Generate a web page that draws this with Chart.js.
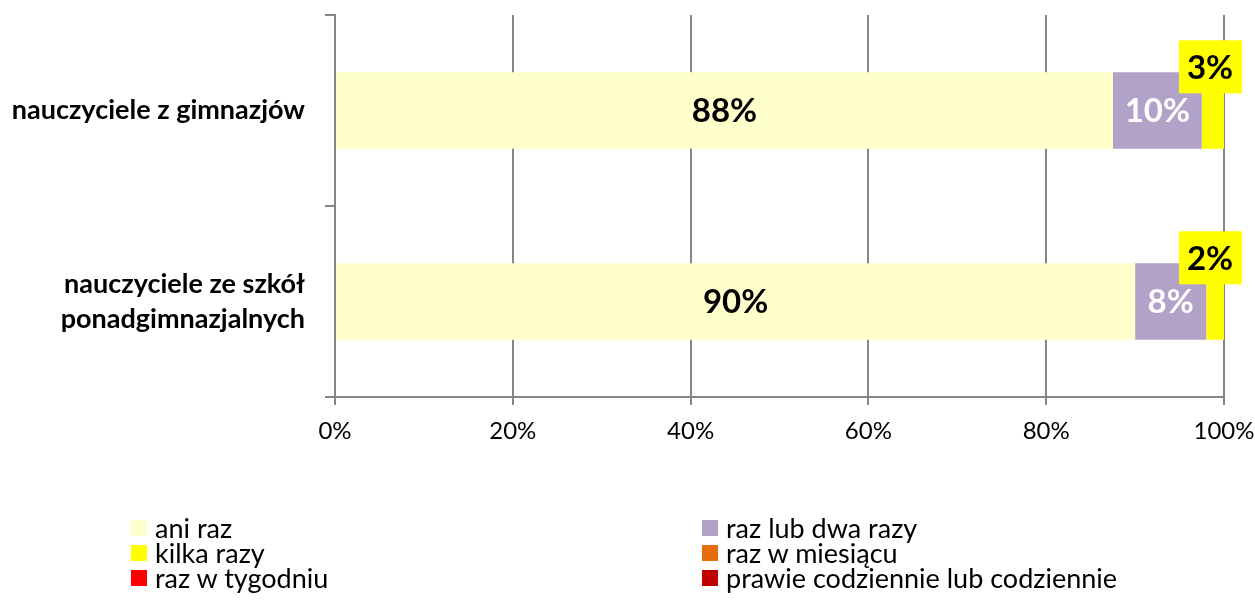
<!DOCTYPE html>
<html>
<head>
<meta charset="utf-8">
<script src="https://cdn.jsdelivr.net/npm/chart.js@4"></script>
<style>
  html, body { margin: 0; padding: 0; background: #fff; }
  #wrap { position: relative; width: 1255px; height: 603px; font-family: Lato, "Open Sans", sans-serif; }
  #chartBox { position: absolute; left: 0; top: 0; width: 1255px; height: 470px; }
  #legend { position: absolute; left: 0; top: 0; width: 1255px; height: 603px; pointer-events: none; }
  .item { position: absolute; display: flex; align-items: center; font-size: 27px; color: #000; white-space: nowrap; height: 25px; }
  .item .sw { width: 16px; height: 16px; margin-right: 8px; }
</style>
</head>
<body>
<div id="wrap">
  <div id="chartBox"><canvas id="chart"></canvas></div>
  <div id="legend"></div>
</div>
<script>
// Kategorien (y-Achse)
const categories = [
  ["nauczyciele z gimnazjów"],
  ["nauczyciele ze szkół", "ponadgimnazjalnych"]
];

// Serien
const seriesNames = [
  "ani raz",
  "raz lub dwa razy",
  "kilka razy",
  "raz w miesiącu",
  "raz w tygodniu",
  "prawie codziennie lub codziennie"
];
const aniRaz = [87.5, 90];
const razLubDwaRazy = [10, 8];
const kilkaRazy = [2.5, 2];
const razWMiesiacu = [0, 0];
const razWTygodniu = [0, 0];
const codziennie = [0, 0];

const xTicks = [0, 20, 40, 60, 80, 100];

const seriesColors = ["#FFFFCC", "#B3A2C7", "#FFFF00", "#E46C0A", "#FF0000", "#C00000"];
const seriesValues = [aniRaz, razLubDwaRazy, kilkaRazy, razWMiesiacu, razWTygodniu, codziennie];

const GRID = "#868686";
const FONT = "Lato, 'Open Sans', sans-serif";

// Datenbeschriftungen (kein datalabels-Plugin verfügbar)
const barLabels = {
  id: "barLabels",
  afterDatasetsDraw(chart) {
    const ctx = chart.ctx;
    ctx.save();
    ctx.font = "bold 33px " + FONT;
    ctx.textAlign = "center";
    ctx.textBaseline = "middle";
    chart.data.datasets.forEach((ds, di) => {
      const meta = chart.getDatasetMeta(di);
      meta.data.forEach((el, i) => {
        const v = ds.data[i];
        if (!v) return;
        const txt = Math.round(v) + "%";
        const cx = (el.x + el.base) / 2;
        const cy = el.y;
        if (di === 2) {
          // kleines Segment: gelbe Box über dem Balkenende
          const bx = el.x - 14, by = cy - el.height / 2 - 5;
          ctx.fillStyle = "#FFFF00";
          ctx.fillRect(bx - 31, by - 27, 63, 53);
          ctx.fillStyle = "#000";
          ctx.fillText(txt, bx, by + 1);
        } else {
          ctx.fillStyle = di === 1 ? "#fff" : "#000";
          ctx.fillText(txt, cx, cy + 1);
        }
      });
    });
    ctx.restore();
  }
};

const chart = new Chart(document.getElementById("chart").getContext("2d"), {
  type: "bar",
  data: {
    labels: categories,
    datasets: seriesNames.map((name, i) => ({
      label: name,
      data: seriesValues[i],
      backgroundColor: seriesColors[i],
      borderWidth: 0,
      categoryPercentage: 1,
      barPercentage: 0.4
    }))
  },
  options: {
    indexAxis: "y",
    responsive: true,
    maintainAspectRatio: false,
    animation: false,
    layout: { padding: { top: 15, right: 31, left: 0, bottom: 0 } },
    plugins: {
      legend: { display: false },
      tooltip: { enabled: false }
    },
    scales: {
      x: {
        stacked: true,
        min: 0,
        max: 100,
        afterBuildTicks: (s) => { s.ticks = xTicks.map(v => ({ value: v })); },
        afterFit: (s) => { s.height = 73; s.paddingLeft = 0; s.paddingRight = 0; },
        ticks: {
          color: "#000",
          padding: 12,
          font: { family: FONT, size: 24 },
          callback: (v) => v + "%"
        },
        grid: { color: GRID, lineWidth: 2, tickLength: 8 },
        border: { color: GRID, width: 2 }
      },
      y: {
        stacked: true,
        afterFit: (s) => { s.width = 335; s.paddingTop = 0; s.paddingBottom = 0; },
        ticks: {
          color: "#000",
          padding: 20,
          font: { family: FONT, size: 27, weight: "bold", lineHeight: 1.3 }
        },
        grid: { drawOnChartArea: false, color: GRID, lineWidth: 2, tickLength: 10 },
        border: { color: GRID, width: 2 }
      }
    }
  },
  plugins: [barLabels]
});

// Legende (zweispaltig wie im Original)
const legendPos = [
  [131, 527], [702, 527],
  [131, 552], [702, 552],
  [131, 577], [702, 577]
];
const legendEl = document.getElementById("legend");
seriesNames.forEach((name, i) => {
  const it = document.createElement("div");
  it.className = "item";
  it.style.left = legendPos[i][0] + "px";
  it.style.top = (legendPos[i][1] - 12) + "px";
  it.innerHTML = '<span class="sw" style="background:' + seriesColors[i] + '"></span><span></span>';
  it.lastChild.textContent = name;
  legendEl.appendChild(it);
});
</script>
</body>
</html>
